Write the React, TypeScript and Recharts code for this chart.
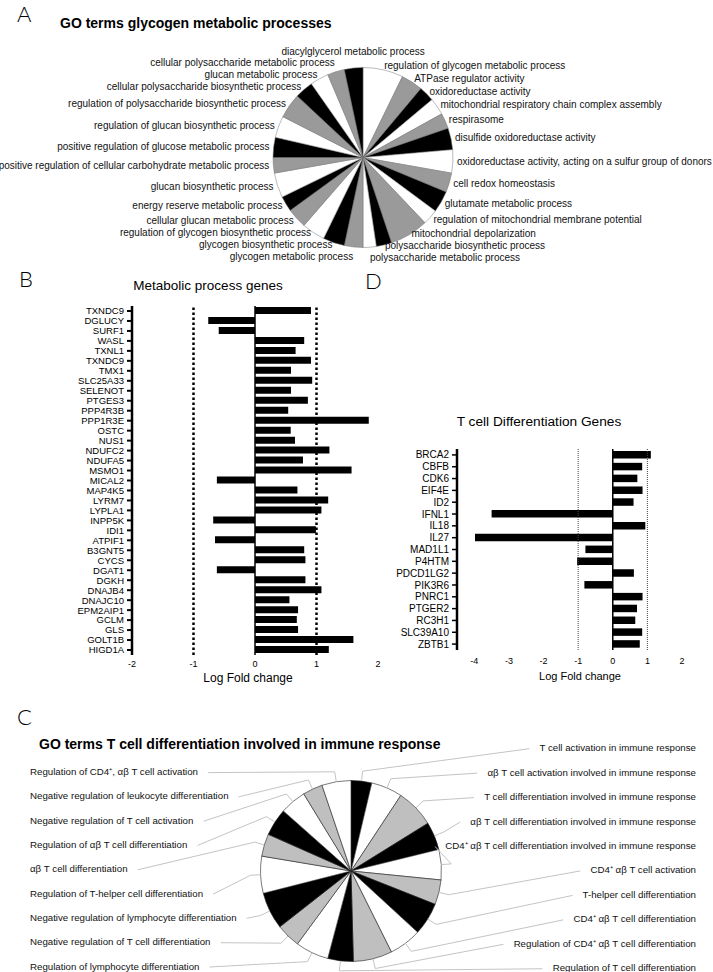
import { PieChart, Pie, Cell, BarChart, Bar, XAxis, YAxis, ReferenceLine } from "recharts";

// ---- panel A: GO terms glycogen metabolic processes (clockwise from 12 o'clock)
const glycogenTerms = [
  "regulation of glycogen metabolic process",
  "ATPase regulator activity",
  "oxidoreductase activity",
  "mitochondrial respiratory chain complex assembly",
  "respirasome",
  "disulfide oxidoreductase activity",
  "oxidoreductase activity, acting on a sulfur group of donors",
  "cell redox homeostasis",
  "glutamate metabolic process",
  "regulation of mitochondrial membrane potential",
  "mitochondrial depolarization",
  "polysaccharide biosynthetic process",
  "polysaccharide metabolic process",
  "glycogen metabolic process",
  "glycogen biosynthetic process",
  "regulation of glycogen biosynthetic process",
  "cellular glucan metabolic process",
  "energy reserve metabolic process",
  "glucan biosynthetic process",
  "positive regulation of cellular carbohydrate metabolic process",
  "positive regulation of glucose metabolic process",
  "regulation of glucan biosynthetic process",
  "regulation of polysaccharide biosynthetic process",
  "cellular polysaccharide biosynthetic process",
  "glucan metabolic process",
  "cellular polysaccharide metabolic process",
  "diacylglycerol metabolic process",
];
const glycogenShares = [26, 14, 10, 11, 10, 14, 15, 12.5, 14, 10, 25, 10, 8.5, 12, 14, 15, 13, 10, 16, 10, 13, 14, 16, 12, 12, 11, 12];

// ---- panel B: metabolic process genes
const metabolicGenes = [
  "TXNDC9", "DGLUCY", "SURF1", "WASL", "TXNL1", "TXNDC9", "TMX1", "SLC25A33", "SELENOT",
  "PTGES3", "PPP4R3B", "PPP1R3E", "OSTC", "NUS1", "NDUFC2", "NDUFA5", "MSMO1", "MICAL2",
  "MAP4K5", "LYRM7", "LYPLA1", "INPP5K", "IDI1", "ATPIF1", "B3GNT5", "CYCS", "DGAT1",
  "DGKH", "DNAJB4", "DNAJC10", "EPM2AIP1", "GCLM", "GLS", "GOLT1B", "HIGD1A",
];
const metabolicFold = [
  0.91, -0.76, -0.59, 0.8, 0.66, 0.91, 0.585, 0.93, 0.585,
  0.86, 0.54, 1.85, 0.58, 0.65, 1.21, 0.78, 1.57, -0.62,
  0.69, 1.19, 1.08, -0.68, 0.99, -0.65, 0.8, 0.82, -0.62,
  0.82, 1.08, 0.56, 0.7, 0.68, 0.7, 1.6, 1.2,
];
const metabolicTicks = [-2, -1, 0, 1, 2];

// ---- panel D: T cell differentiation genes
const tcellGenes = [
  "BRCA2", "CBFB", "CDK6", "EIF4E", "ID2", "IFNL1", "IL18", "IL27", "MAD1L1",
  "P4HTM", "PDCD1LG2", "PIK3R6", "PNRC1", "PTGER2", "RC3H1", "SLC39A10", "ZBTB1",
];
const tcellFold = [1.1, 0.85, 0.71, 0.86, 0.6, -3.5, 0.94, -3.98, -0.79, -1.03, 0.61, -0.82, 0.86, 0.7, 0.65, 0.85, 0.78];
const tcellTicks = [-4, -3, -2, -1, 0, 1, 2];

// ---- panel C: GO terms T cell differentiation (clockwise from 12 o'clock)
const tcellTerms = [
  "T cell activation in immune response",
  "αβ T cell activation involved in immune response",
  "T cell differentiation involved in immune response",
  "αβ T cell differentiation involved in immune response",
  "CD4⁺ αβ T cell differentiation involved in immune response",
  "CD4⁺ αβ T cell activation",
  "T-helper cell differentiation",
  "CD4⁺ αβ T cell differentiation",
  "Regulation of CD4⁺ αβ T cell differentiation",
  "Regulation of T cell differentiation",
  "Regulation of lymphocyte differentiation",
  "Negative regulation of T cell differentiation",
  "Negative regulation of lymphocyte differentiation",
  "Regulation of T-helper cell differentiation",
  "αβ T cell differentiation",
  "Regulation of αβ T cell differentiation",
  "Negative regulation of T cell activation",
  "Negative regulation of leukocyte differentiation",
  "Regulation of CD4⁺, αβ T cell activation",
];
const tcellShares = [13.3, 20.1, 24.8, 18, 19.5, 15.9, 21, 20.9, 25, 16.4, 21.4, 15.6, 23.8, 23.8, 14.4, 17.7, 16.9, 12.8, 18.7];

const FONT = '"Liberation Sans", Arial, Helvetica, sans-serif';
const RAD = Math.PI / 180;

const glycogenRows = glycogenTerms.map((name, i) => ({ name, value: glycogenShares[i] }));
const tcellTermRows = tcellTerms.map((name, i) => ({ name, value: tcellShares[i] }));
const metabolicRows = metabolicGenes.map((gene, i) => ({ gene, fold: metabolicFold[i] }));
const tcellRows = tcellGenes.map((gene, i) => ({ gene, fold: tcellFold[i] }));

const fillA = ["#ffffff", "#9a9a9a", "#000000"];
const fillC = ["#000000", "#ffffff", "#bfbfbf"];

// vertical nudges for the pie A labels so neighbours near the top/bottom keep ~12px apart
const LABEL_R = 94;
const LABEL_GAP = 12;
const glycogenNudge = (() => {
  const total = glycogenShares.reduce((a, b) => a + b, 0);
  let acc = 0;
  const items = glycogenShares.map((v, i) => {
    const t = ((acc + v / 2) / total) * 2 * Math.PI;
    acc += v;
    const s = Math.sin(t);
    const c = Math.cos(t);
    const y0 = -LABEL_R * c;
    let y = y0;
    let fixed = false;
    if (Math.abs(s) < 0.12) {
      y += c > 0 ? -12.5 : 6;
      fixed = true;
    } else if (s < 0 && c > 0.9) {
      y -= (c - 0.9) * 70;
    }
    return { i, side: s >= 0 ? 1 : -1, y, y0, fixed };
  });
  for (const side of [1, -1]) {
    const list = items.filter((d) => d.side === side).sort((a, b) => b.y - a.y);
    for (let k = 1; k < list.length; k++) {
      if (list[k].fixed) continue;
      list[k].y = Math.min(list[k].y, list[k - 1].y - LABEL_GAP);
    }
  }
  const out: number[] = [];
  items.forEach((d) => (out[d.i] = d.y - d.y0));
  return out;
})();

let measureCtx: CanvasRenderingContext2D | null = null;
function textWidth(s: string, size: number) {
  if (!measureCtx) measureCtx = document.createElement("canvas").getContext("2d");
  if (!measureCtx) return s.length * size * 0.5;
  measureCtx.font = `${size}px "Liberation Sans"`;
  return measureCtx.measureText(s).width;
}

function glycogenLabel(props: any) {
  const { cx, cy, midAngle, index } = props;
  const t = (90 - midAngle) * RAD;
  const s = Math.sin(t);
  const c = Math.cos(t);
  const x = cx + LABEL_R * s;
  const y = cy - LABEL_R * c + glycogenNudge[index];
  let anchor = s >= 0 ? "start" : "end";
  if (Math.abs(s) < 0.12 && c > 0) anchor = "middle";
  return (
    <text key={index} x={x} y={y} textAnchor={anchor} dominantBaseline="central" fontSize={10} fill="#111">
      {glycogenTerms[index]}
    </text>
  );
}

function tcellTermLabel(props: any) {
  const { cx, cy, midAngle, outerRadius, index } = props;
  const t = (90 - midAngle) * RAD;
  const s = Math.sin(t);
  const c = Math.cos(t);
  const px = cx + outerRadius * s;
  const py = cy - outerRadius * c;
  const ex = cx + (outerRadius + 10) * s;
  const ey = cy - (outerRadius + 10) * c;
  const name = tcellTerms[index];
  const w = textWidth(name, 9.7);
  const right = index < 10;
  const ly = right ? cy - 123.3 + index * 24.45 : cy + 95 - (index - 10) * 24.3;
  const tx = right ? 696 : 30;
  const lx = right ? tx - w - 10 : tx + w + 10;
  return (
    <g key={index}>
      <polyline points={`${lx},${ly + 1} ${ex},${ey} ${px},${py}`} fill="none" stroke="#c4c4c4" strokeWidth={1} />
      <text x={tx} y={ly} textAnchor={right ? "end" : "start"} dominantBaseline="central" fontSize={9.7} fill="#111">
        {name}
      </text>
    </g>
  );
}

const box = (left: number, top: number): React.CSSProperties => ({ position: "absolute", left, top });

export default function App() {
  return (
    <div style={{ position: "absolute", left: 0, top: 0, width: 713, height: 972, background: "#fff", fontFamily: FONT }}>
      <div style={box(0, 0)}>
        <PieChart width={713} height={270} margin={{ top: 0, right: 0, bottom: 0, left: 0 }}>
          <Pie
            data={glycogenRows}
            dataKey="value"
            cx={363}
            cy={157.5}
            outerRadius={90}
            startAngle={90}
            endAngle={-270}
            stroke="#777"
            strokeWidth={0.5}
            label={glycogenLabel}
            labelLine={false}
            isAnimationActive={false}
          >
            {glycogenRows.map((r, i) => (
              <Cell key={r.name + i} fill={fillA[i % 3]} />
            ))}
          </Pie>
        </PieChart>
      </div>

      <div style={box(0, 290)}>
        <BarChart width={400} height={405} data={metabolicRows} layout="vertical" margin={{ top: 16, right: 22, bottom: 10, left: 0 }}>
          <XAxis
            type="number"
            domain={[-2, 2]}
            ticks={metabolicTicks}
            axisLine={false}
            tickLine={false}
            tickSize={4}
            tickMargin={2}
            height={30}
            tick={{ fontSize: 9, fill: "#000" }}
          />
          <YAxis
            type="category"
            dataKey="gene"
            width={132}
            interval={0}
            tickSize={5}
            tickMargin={3}
            axisLine={{ stroke: "#000", strokeWidth: 2.5 }}
            tickLine={{ stroke: "#000", strokeWidth: 2 }}
            tick={{ fontSize: 9.5, fill: "#000" }}
          />
          <ReferenceLine x={0} stroke="#000" strokeWidth={1.5} />
          <ReferenceLine x={-1} stroke="#000" strokeWidth={2.5} strokeDasharray="2.5 2.5" />
          <ReferenceLine x={1} stroke="#000" strokeWidth={2.5} strokeDasharray="2.5 2.5" />
          <Bar dataKey="fold" fill="#000" barSize={7} isAnimationActive={false} />
        </BarChart>
      </div>

      <div style={box(360, 430)}>
        <BarChart width={353} height={251} data={tcellRows} layout="vertical" margin={{ top: 19, right: 31, bottom: 5, left: 0 }}>
          <XAxis
            type="number"
            domain={[-4.5, 2]}
            ticks={tcellTicks}
            axisLine={false}
            tickLine={false}
            tickSize={6}
            tickMargin={2}
            height={26}
            tick={{ fontSize: 9, fill: "#000" }}
          />
          <YAxis
            type="category"
            dataKey="gene"
            width={97}
            interval={0}
            tickSize={5}
            tickMargin={3}
            axisLine={{ stroke: "#000", strokeWidth: 2.5 }}
            tickLine={{ stroke: "#000", strokeWidth: 1.5 }}
            tick={{ fontSize: 10, fill: "#000" }}
          />
          <ReferenceLine x={0} stroke="#000" strokeWidth={1.5} />
          <ReferenceLine x={-1} stroke="#444" strokeWidth={1} strokeDasharray="1 1" />
          <ReferenceLine x={1} stroke="#444" strokeWidth={1} strokeDasharray="1 1" />
          <Bar dataKey="fold" fill="#000" barSize={7.5} isAnimationActive={false} />
        </BarChart>
      </div>

      <div style={box(0, 690)}>
        <PieChart width={713} height={282} margin={{ top: 0, right: 0, bottom: 0, left: 0 }}>
          <Pie
            data={tcellTermRows}
            dataKey="value"
            cx={351}
            cy={181}
            outerRadius={90.5}
            startAngle={90}
            endAngle={-270}
            stroke="#222"
            strokeWidth={0.6}
            label={tcellTermLabel}
            labelLine={false}
            isAnimationActive={false}
          >
            {tcellTermRows.map((r, i) => (
              <Cell key={r.name} fill={i === tcellTermRows.length - 1 ? "#ffffff" : fillC[i % 3]} />
            ))}
          </Pie>
        </PieChart>
      </div>

      <svg width={713} height={972} style={{ position: "absolute", left: 0, top: 0, pointerEvents: "none" }}>
        <g fontFamily='Lato, "Liberation Sans", sans-serif' fontWeight={300} fontSize={22} fill="#000">
          <text x={17} y={22}>A</text>
          <text x={19} y={287}>B</text>
          <text x={17} y={725}>C</text>
          <text x={365} y={289}>D</text>
        </g>
        <text x={60} y={23} dominantBaseline="central" fontSize={14} fontWeight="bold">
          GO terms glycogen metabolic processes
        </text>
        <text x={208} y={285} dominantBaseline="central" textAnchor="middle" fontSize={13.5}>
          Metabolic process genes
        </text>
        <text x={248} y={678} dominantBaseline="central" textAnchor="middle" fontSize={12}>
          Log Fold change
        </text>
        <text x={539} y={421.7} dominantBaseline="central" textAnchor="middle" fontSize={13.7}>
          T cell Differentiation Genes
        </text>
        <text x={580} y={676} dominantBaseline="central" textAnchor="middle" fontSize={11}>
          Log Fold change
        </text>
        <text x={39} y={744} dominantBaseline="central" fontSize={14} fontWeight="bold">
          GO terms T cell differentiation involved in immune response
        </text>
      </svg>
    </div>
  );
}
